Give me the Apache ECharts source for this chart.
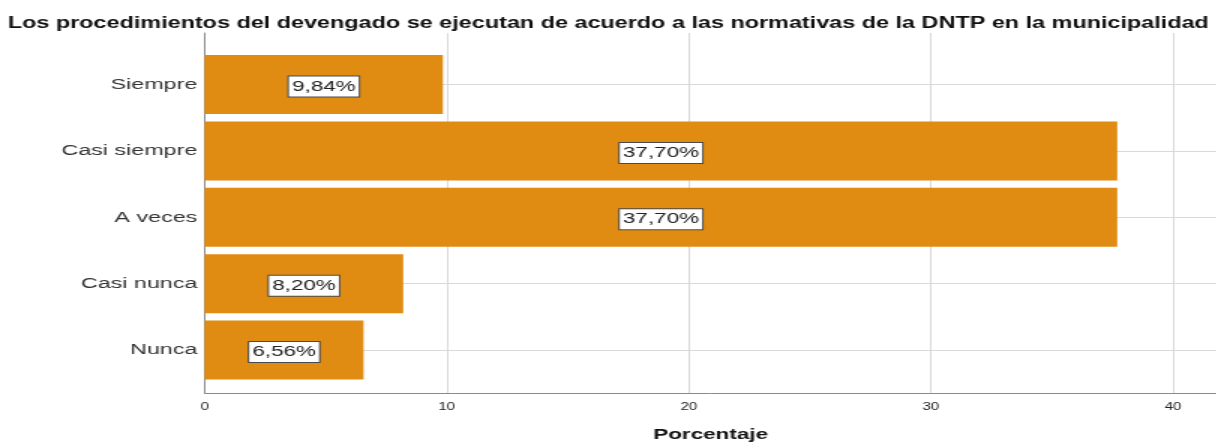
<!DOCTYPE html>
<html>
<head>
<meta charset="utf-8">
<script src="https://cdn.jsdelivr.net/npm/echarts@6/dist/echarts.min.js"></script>
<style>
  html, body { margin: 0; padding: 0; background: #fff; overflow: hidden; }
  /* The chart is laid out on a narrower canvas and widened 1.5x, giving the broad, stretched lettering */
  #chart { width: 810.667px; height: 447px; transform: scaleX(1.5); transform-origin: 0 0; }
</style>
</head>
<body>
<div id="chart"></div>
<script>
const titleText = 'Los procedimientos del devengado se ejecutan de acuerdo a las normativas de la DNTP en la municipalidad';
const categories = ['Siempre', 'Casi siempre', 'A veces', 'Casi nunca', 'Nunca'];
const percentages = [9.84, 37.70, 37.70, 8.20, 6.56];
const axisName = 'Porcentaje';
const xMax = 41.8;
const xStep = 10;

const FONT = '"Liberation Sans", Arial, sans-serif';
const BAR = '#e08b11';
const GRID_LINE = '#d9d9d9';
const AXIS_LINE = '#8a8a8a';

const chart = echarts.init(document.getElementById('chart'), null, { renderer: 'canvas' });

chart.setOption({
  animation: false,
  backgroundColor: '#ffffff',
  textStyle: { fontFamily: FONT },
  title: {
    text: titleText,
    left: 'center',
    top: 10.5,
    textStyle: { fontFamily: FONT, fontSize: 15.6, fontWeight: 'bold', color: '#111' }
  },
  grid: [
    // frame: axes and vertical grid lines
    { left: 136.5, right: 0, top: 33, bottom: 45.3 },
    // bars: one row per category, grid lines through row centres
    { left: 136.5, right: 0, top: 84.5, bottom: 97 }
  ],
  xAxis: [
    {
      type: 'value', gridIndex: 0, min: 0, max: xMax, interval: xStep,
      name: axisName, nameLocation: 'middle', nameGap: 34,
      nameTextStyle: { fontFamily: FONT, fontSize: 15, fontWeight: 'bold', color: '#111' },
      axisLine: { show: true, lineStyle: { color: AXIS_LINE, width: 1 } },
      axisTick: { show: false },
      axisLabel: { fontFamily: FONT, fontSize: 10, color: '#222', margin: 9, showMaxLabel: false },
      splitLine: { show: true, showMinLine: false, showMaxLine: false, lineStyle: { color: GRID_LINE, width: 1 } }
    },
    {
      type: 'value', gridIndex: 1, min: 0, max: xMax, show: false
    }
  ],
  yAxis: [
    {
      type: 'value', gridIndex: 0, min: 0, max: 1,
      axisLine: { show: true, lineStyle: { color: AXIS_LINE, width: 1 } },
      axisTick: { show: false }, axisLabel: { show: false }, splitLine: { show: false }
    },
    {
      type: 'category', gridIndex: 1, data: categories, inverse: true, boundaryGap: false,
      axisLine: { show: false }, axisTick: { show: false },
      axisLabel: { fontFamily: FONT, fontSize: 15.5, color: '#333', margin: 5, padding: [5, 0, 0, 0] },
      splitLine: { show: true, lineStyle: { color: GRID_LINE, width: 1 } }
    }
  ],
  series: [
    {
      type: 'bar',
      xAxisIndex: 1, yAxisIndex: 1,
      data: percentages,
      barWidth: 59,
      clip: false,
      itemStyle: { color: BAR },
      label: {
        show: true,
        position: 'inside',
        offset: [0, 2],
        formatter: p => p.value.toFixed(2).replace('.', ',') + '%',
        fontFamily: FONT, fontSize: 15, color: '#222',
        backgroundColor: '#ffffff',
        borderColor: '#4a4a4a', borderWidth: 1,
        padding: [3, 2, 2, 2]
      }
    }
  ]
});
</script>
</body>
</html>
